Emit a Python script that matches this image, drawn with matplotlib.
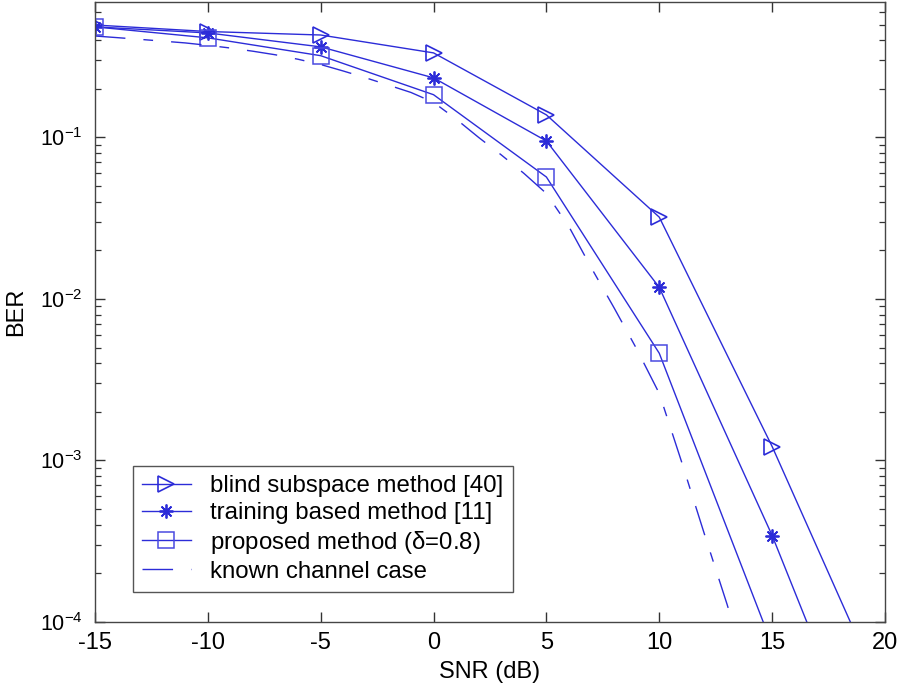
import numpy as np
import matplotlib
matplotlib.use('Agg')
import matplotlib.pyplot as plt
from matplotlib.ticker import LogLocator, NullFormatter, FixedLocator

matplotlib.rcParams['font.family'] = ['Liberation Sans', 'DejaVu Sans']
matplotlib.rcParams['mathtext.default'] = 'regular'
matplotlib.rcParams['axes.unicode_minus'] = False

# values
snr = [-15, -10, -5, 0, 5, 10, 15, 20]
ber_blind = [0.497, 0.453, 0.431, 0.334, 0.138, 0.0321, 0.00122, 3.3e-5]
ber_training = [0.484, 0.444, 0.364, 0.234, 0.0951, 0.0118, 3.43e-4, 6.2e-6]
ber_proposed = [0.484, 0.414, 0.321, 0.184, 0.0569, 0.00461, 7.2e-5, 1.1e-6]

snr_known = list(range(-15, 15))
ber_known = [0.425, 0.415, 0.405, 0.395, 0.385, 0.372, 0.358, 0.342, 0.325,
             0.305, 0.283, 0.258, 0.234, 0.211, 0.19, 0.165, 0.13, 0.10,
             0.078, 0.06, 0.045, 0.028, 0.0155, 0.0088, 0.0049, 0.0026,
             0.00097, 0.00035, 0.000129, 0.000045]

labels = ['blind subspace method [40]', 'training based method [11]',
          r'proposed method ($\delta$=0.8)', 'known channel case']

blue = '#2c2cd8'

if __name__ == "__main__":
    fig = plt.figure(figsize=(9.04, 6.9), dpi=100)
    ax = fig.add_axes([0.105, 0.0986, 0.874, 0.8985])

    ax.semilogy(snr, ber_blind, color=blue, lw=1.0, marker='>',
                ms=12, mfc='none', mec=blue, mew=1.2, label=labels[0])
    ax.semilogy(snr, ber_training, color=blue, lw=1.0, marker=(8, 2, 0),
                ms=10, mec=blue, mew=1.3, label=labels[1])
    ax.semilogy(snr, ber_proposed, color=blue, lw=1.0, marker='s',
                ms=12, mfc='none', mec='#4a4ae0', mew=1.1, label=labels[2])
    ax.semilogy(snr_known, ber_known, color=blue, lw=1.0,
                dashes=(22, 13, 7, 13), label=labels[3])

    ax.set_xlim(-15, 20)
    ax.set_ylim(1e-4, 0.69)
    ax.xaxis.set_major_locator(FixedLocator([-15, -10, -5, 0, 5, 10, 15, 20]))
    ax.yaxis.set_major_locator(FixedLocator([1e-4, 1e-3, 1e-2, 1e-1]))
    ax.yaxis.set_minor_locator(LogLocator(base=10, subs=np.arange(2, 10)))
    ax.yaxis.set_minor_formatter(NullFormatter())

    for s in ax.spines.values():
        s.set_color('#454545')
        s.set_linewidth(1.0)
    ax.tick_params(which='both', direction='in', top=True, right=True,
                   color='#333333', labelsize=17)
    ax.tick_params(which='major', length=7, width=1.0)
    ax.tick_params(which='minor', length=4, width=0.9)
    ax.tick_params(axis='x', pad=7)
    ax.tick_params(axis='y', pad=9, labelsize=15.5)

    ax.set_xlabel('SNR (dB)', fontsize=17, labelpad=5)
    ax.set_ylabel('BER', fontsize=17, labelpad=9)

    leg = ax.legend(loc='lower left', bbox_to_anchor=(0.048, 0.048),
                    borderaxespad=0, fontsize=17.3, fancybox=False,
                    framealpha=1, edgecolor='#555555', handlelength=2.0,
                    labelspacing=0.2, borderpad=0.4, handletextpad=0.8)
    leg.get_frame().set_linewidth(1.0)

    plt.savefig('out.png', dpi=100)
